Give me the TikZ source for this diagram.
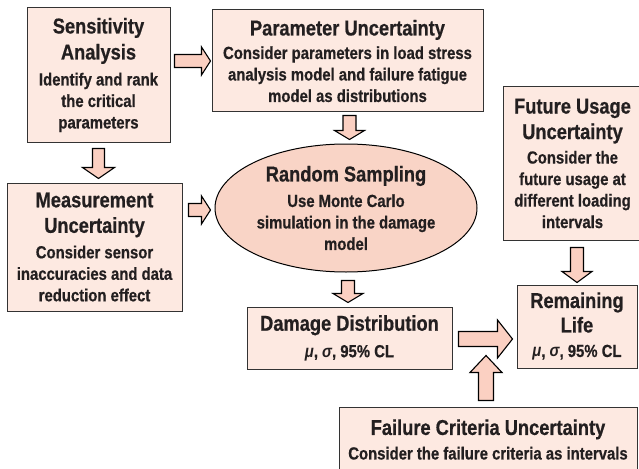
\documentclass[tikz,border=0pt]{standalone}
\usepackage{fontspec}
\setmainfont{Liberation Sans}[FakeStretch=0.85, BoldFeatures={FakeBold=0.6}]
\usetikzlibrary{shapes.geometric,calc}
\definecolor{boxfill}{HTML}{FDE9E1}
\definecolor{ellfill}{HTML}{F9D4C6}
\definecolor{arrfill}{HTML}{FBD0C2}
\definecolor{edgecol}{HTML}{333333}
\definecolor{ink}{HTML}{231F20}
\newcommand\tfont{\fontsize{21.5}{21.5}\selectfont}
\newcommand\sfont{\fontsize{17.5}{21.5}\selectfont}
\tikzset{
  box/.style={draw=edgecol, line width=1pt, fill=boxfill, text=ink, align=center,
    font=\sfont\bfseries, inner sep=0pt},
  ell/.style={box, ellipse, draw=black, fill=ellfill},
  arrstyle/.style={draw=black, line width=1.1pt, fill=arrfill, line join=miter},
  pics/barrow/.style n args={4}{code={
    \draw[arrstyle] (0,#2) -- ({#1-#4},#2) -- ({#1-#4},#3) -- (#1,0)
      -- ({#1-#4},-#3) -- ({#1-#4},-#2) -- (0,-#2) -- cycle;}}
}
\begin{document}
\begin{tikzpicture}[x=1pt,y=-1pt]
\clip (0,0) rectangle (639,468);
\fill[white] (0,0) rectangle (639,468);

\node[box, minimum width=143, minimum height=134] (sens) at (98.5,75)
  {{\tfont Sensitivity}\\[4.5pt]{\tfont Analysis}\\[4.5pt]Identify and rank\\the critical\\parameters};
\node[box, minimum width=271, minimum height=102] (param) at (347.5,61)
  {{\tfont Parameter Uncertainty}\\[2pt]Consider parameters in load stress\\analysis model and failure fatigue\\model as distributions};
\node[box, minimum width=139, minimum height=153] (future) at (572.5,163.5)
  {{\tfont Future Usage}\\[4pt]{\tfont Uncertainty}\\[3pt]Consider the\\future usage at\\different loading\\intervals};
\node[box, minimum width=175, minimum height=128] (meas) at (94.5,247)
  {{\tfont Measurement}\\[4pt]{\tfont Uncertainty}\\[4pt]Consider sensor\\inaccuracies and data\\reduction effect};
\node[ell, minimum width=262, minimum height=128] (rand) at (346,208)
  {{\tfont Random Sampling}\\[4pt]Use Monte Carlo\\simulation in the damage\\model};
\node[box, minimum width=205, minimum height=62] (damage) at (349.5,338)
  {{\tfont Damage Distribution}\\[5pt]{\itshape μ}, {\itshape σ}, 95\% CL};
\node[box, minimum width=120, minimum height=83] (remain) at (577,326.5)
  {{\tfont Remaining}\\[3pt]{\tfont Life}\\[3pt]{\itshape μ}, {\itshape σ}, 95\% CL};
\node[box, minimum width=298, minimum height=65] (fail) at (488,439.5)
  {{\tfont Failure Criteria Uncertainty}\\[3pt]Consider the failure criteria as intervals};

% block arrows, anchored at the named nodes
\pic at ($(sens.east |- param.west)+(4,0)$) {barrow={36}{6.5}{14}{9}};
\pic[rotate=-90] at ($(sens.south)+(0,6)$) {barrow={30}{6}{16}{11}};
\pic at ($(meas.east |- rand.center)+(6,2)$) {barrow={22}{6.5}{14}{9}};
\pic[rotate=-90] at ($(param.south)+(2,3)$) {barrow={24}{6.5}{15}{9}};
\pic[rotate=-90] at ($(rand.south)+(2,8)$) {barrow={22}{6.5}{15}{9}};
\pic[rotate=-90] at ($(remain.north |- future.south)+(0,7)$) {barrow={35}{6.5}{15}{11}};
\pic at ($(damage.east)+(6,1)$) {barrow={54}{7.5}{19}{15}};
\pic[rotate=90] at ($(fail.north)+(-2,-6)$) {barrow={45}{7.5}{16}{17}};
\end{tikzpicture}
\end{document}
